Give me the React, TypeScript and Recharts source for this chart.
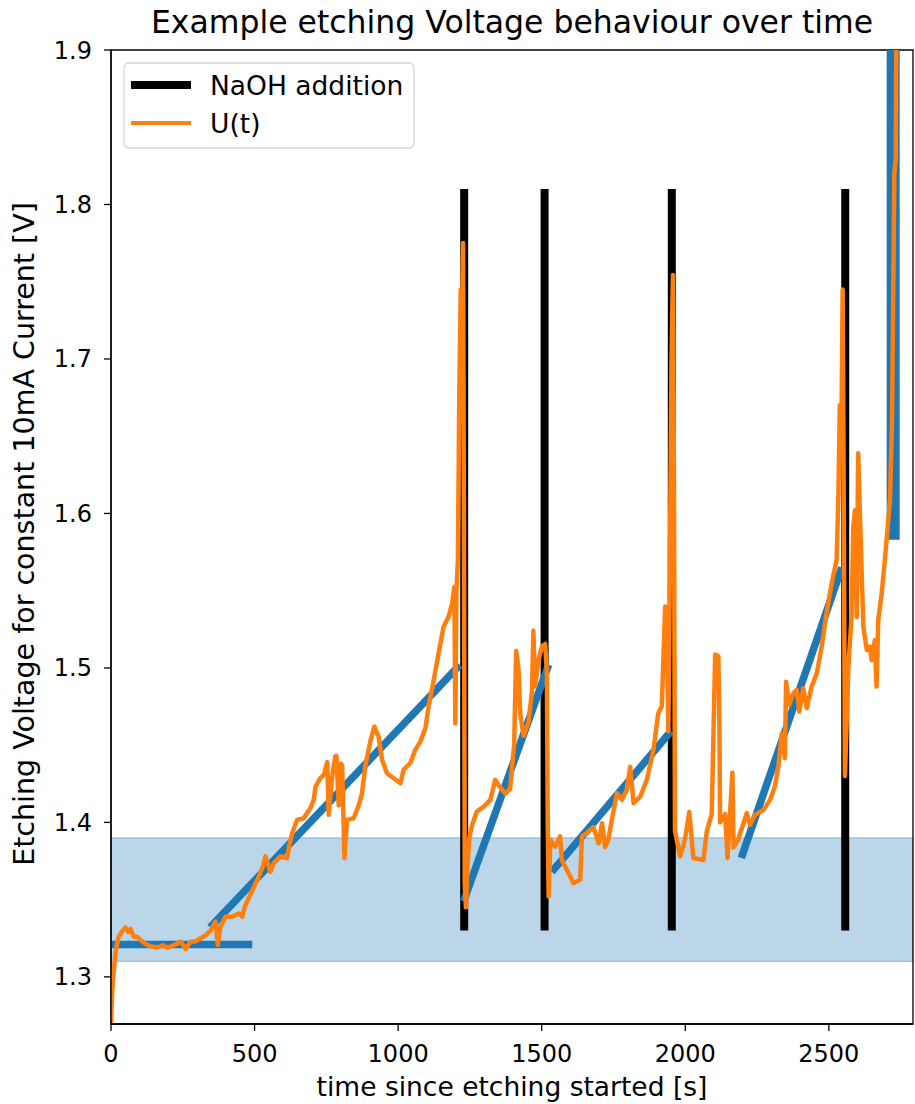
import { LineChart, Line, XAxis, YAxis, ReferenceArea, Label } from "recharts";

// measured voltage trace U(t)
const uTimes = [
  0, 4, 10, 16, 25, 33, 50, 60, 68, 79, 90, 103, 115, 126, 145, 161, 180, 195, 207, 225,
  242, 250, 260, 277, 295, 312, 330, 347, 364, 372, 381, 399, 422, 445, 457, 468, 480, 497, 515, 530,
  538, 555, 567, 590, 613, 622, 631, 648, 671, 683, 694, 706, 712, 729, 741, 753, 758, 770, 781, 785,
  793, 801, 805, 813, 822, 845, 863, 874, 886, 903, 917, 932, 944, 961, 984, 1008, 1019, 1042, 1060, 1077,
  1095, 1106, 1124, 1141, 1158, 1176, 1188, 1196, 1199, 1203, 1208, 1213, 1218, 1222, 1226, 1229, 1232, 1236, 1241, 1248,
  1257, 1274, 1297, 1321, 1338, 1350, 1373, 1390, 1404, 1411, 1419, 1425, 1437, 1454, 1466, 1471, 1477, 1489, 1501, 1512,
  1518, 1521, 1524, 1530, 1547, 1564, 1570, 1588, 1611, 1634, 1640, 1657, 1680, 1698, 1710, 1721, 1732, 1744, 1762, 1779,
  1796, 1808, 1820, 1843, 1866, 1889, 1906, 1918, 1930, 1936, 1941, 1946, 1952, 1957, 1961, 1964, 1982, 1999, 2014, 2028,
  2063, 2075, 2092, 2104, 2115, 2119, 2121, 2139, 2147, 2164, 2168, 2185, 2191, 2214, 2225, 2243, 2272, 2295, 2312, 2324,
  2336, 2347, 2351, 2362, 2376, 2388, 2397, 2411, 2423, 2440, 2458, 2475, 2492, 2510, 2527, 2533, 2538, 2544, 2548, 2552,
  2556, 2568, 2579, 2585, 2591, 2597, 2602, 2608, 2620, 2632, 2643, 2649, 2660, 2666, 2672, 2684, 2695, 2707, 2713, 2720,
  2728, 2733, 2737,
];
const uVolts = [
  1.27, 1.29, 1.305, 1.316, 1.325, 1.328, 1.332, 1.329, 1.331, 1.326, 1.326, 1.324, 1.322, 1.3207, 1.3195, 1.319, 1.3205, 1.319, 1.3196, 1.321,
  1.3228, 1.321, 1.318, 1.3228, 1.323, 1.325, 1.327, 1.33, 1.3358, 1.3207, 1.3326, 1.339, 1.339, 1.341, 1.339, 1.3466, 1.351, 1.358, 1.365, 1.372,
  1.378, 1.368, 1.3736, 1.378, 1.3768, 1.386, 1.393, 1.4016, 1.4027, 1.406, 1.409, 1.4146, 1.423, 1.4286, 1.4307, 1.439, 1.405, 1.4296, 1.4426, 1.443,
  1.411, 1.438, 1.437, 1.377, 1.4016, 1.4027, 1.411, 1.4189, 1.437, 1.4523, 1.462, 1.4555, 1.4405, 1.4318, 1.4286, 1.4254, 1.434, 1.4383, 1.447, 1.4523,
  1.461, 1.475, 1.4922, 1.5095, 1.5267, 1.5332, 1.5419, 1.5526, 1.464, 1.55, 1.57, 1.68, 1.745, 1.72, 1.775, 1.6, 1.36, 1.345, 1.37, 1.39,
  1.398, 1.407, 1.41, 1.4146, 1.4275, 1.424, 1.4186, 1.4217, 1.4504, 1.511, 1.4995, 1.4706, 1.456, 1.465, 1.485, 1.524, 1.488, 1.5053, 1.514, 1.5155,
  1.4968, 1.4, 1.352, 1.3887, 1.3843, 1.391, 1.3757, 1.369, 1.3606, 1.3628, 1.391, 1.393, 1.397, 1.3865, 1.3995, 1.384, 1.3887, 1.4016, 1.4189, 1.4146,
  1.421, 1.436, 1.4124, 1.4167, 1.4275, 1.447, 1.4707, 1.475, 1.5397, 1.5246, 1.459, 1.56, 1.7, 1.7544, 1.6, 1.3945, 1.378, 1.389, 1.4068, 1.377,
  1.3757, 1.3945, 1.4053, 1.5087, 1.5074, 1.4618, 1.3999, 1.4053, 1.377, 1.4322, 1.3838, 1.389, 1.393, 1.406, 1.3984, 1.4049, 1.408, 1.4146, 1.4232, 1.436,
  1.4577, 1.4416, 1.491, 1.476, 1.4836, 1.4858, 1.4717, 1.4869, 1.474, 1.4879, 1.4966, 1.5138, 1.5354, 1.5548, 1.57, 1.61, 1.67, 1.66, 1.745, 1.6,
  1.43, 1.5008, 1.533, 1.591, 1.602, 1.533, 1.639, 1.6, 1.5267, 1.5117, 1.5138, 1.505, 1.518, 1.4879, 1.531, 1.5483, 1.57, 1.5958, 1.609, 1.66,
  1.82, 1.83, 2.0,
];

// NaOH additions (vertical markers)
const naohTimes = [1230, 1510, 1953, 2557];
const naohRange = [1.33, 1.81];

// linear fits per etching phase
const fitStartT = [0, 345, 1228, 1535, 2195, 2724];
const fitStartU = [1.321, 1.332, 1.349, 1.368, 1.377, 1.583];
const fitEndT = [492, 1215, 1524, 1950, 2545, 2724];
const fitEndU = [1.321, 1.502, 1.502, 1.459, 1.565, 2.2];

// target voltage window
const bandRange = [1.31, 1.39];

const xDomain = [0, 2793];
const yDomain = [1.2695, 1.9];
const xTicks = [0, 500, 1000, 1500, 2000, 2500];
const yTicks = [1.3, 1.4, 1.5, 1.6, 1.7, 1.8, 1.9];

const FONT = "DejaVu Sans";
const BLUE = "#1f77b4";
const ORANGE = "#ff7f0e";

const uData = uTimes.map((t, i) => ({ t, v: uVolts[i] }));

function ChartLegend() {
  return (
    <svg
      width={292}
      height={87}
      style={{ position: "absolute", left: 123, top: 62 }}
    >
      <rect
        x={1}
        y={1}
        width={290}
        height={85}
        rx={5}
        fill="rgba(255,255,255,0.8)"
        stroke="#d4d4d4"
        strokeWidth={1.3}
      />
      <line x1={8} x2={68} y1={23} y2={23} stroke="#000" strokeWidth={8} />
      <line x1={8} x2={68} y1={61} y2={61} stroke={ORANGE} strokeWidth={4} />
      <text x={87} y={23} dy="0.36em" fontSize={26.5} fontFamily={FONT}>
        NaOH addition
      </text>
      <text x={87} y={61} dy="0.36em" fontSize={26.5} fontFamily={FONT}>
        U(t)
      </text>
    </svg>
  );
}

export default function App() {
  return (
    <div style={{ position: "absolute", left: 0, top: 0, width: 915, height: 1104, background: "#fff" }}>
      <LineChart
        width={915}
        height={1104}
        margin={{ top: 50, right: 2, bottom: 0, left: 0 }}
        style={{ fontFamily: FONT }}
      >
        <XAxis
          dataKey="t"
          type="number"
          domain={xDomain}
          ticks={xTicks}
          allowDataOverflow
          height={80}
          stroke="#000"
          strokeWidth={1.3}
          tickSize={7}
          tickMargin={14}
          tick={{ fontSize: 24, fill: "#000", fontFamily: FONT }}
        >
          <Label
            value="time since etching started [s]"
            position="insideBottom"
            offset={8}
            style={{ fontSize: 26.5, fill: "#000", fontFamily: FONT }}
          />
        </XAxis>
        <YAxis
          type="number"
          domain={yDomain}
          ticks={yTicks}
          allowDataOverflow
          width={111}
          stroke="#000"
          strokeWidth={1.3}
          tickSize={7}
          tickMargin={12}
          tickFormatter={(v: number) => v.toFixed(1)}
          tick={{ fontSize: 24, fill: "#000", fontFamily: FONT }}
        >
          <Label
            value="Etching Voltage for constant 10mA Current [V]"
            content={() => (
              <text
                x={24}
                y={534}
                transform="rotate(-90 24 534)"
                textAnchor="middle"
                dominantBaseline="central"
                fontSize={28.5}
                fontFamily={FONT}
                fill="#000"
              >
                Etching Voltage for constant 10mA Current [V]
              </text>
            )}
          />
        </YAxis>

        <ReferenceArea
          x1={xDomain[0]}
          x2={xDomain[1]}
          y1={bandRange[0]}
          y2={bandRange[1]}
          fill={BLUE}
          fillOpacity={0.3}
          stroke={BLUE}
          strokeOpacity={0.35}
          strokeWidth={1.3}
          ifOverflow="hidden"
        />

        {naohTimes.map((t, i) => (
          <Line
            key={`naoh-${i}`}
            data={[
              { t, v: naohRange[0] },
              { t, v: naohRange[1] },
            ]}
            dataKey="v"
            stroke="#000"
            strokeWidth={8}
            strokeLinecap="butt"
            dot={false}
            activeDot={false}
            isAnimationActive={false}
          />
        ))}

        {fitStartT.map((t, i) => (
          <Line
            key={`fit-${i}`}
            data={[
              { t, v: fitStartU[i] },
              { t: fitEndT[i], v: fitEndU[i] },
            ]}
            dataKey="v"
            stroke={BLUE}
            strokeWidth={i === fitStartT.length - 1 ? 13 : 7.5}
            strokeLinecap="butt"
            dot={false}
            activeDot={false}
            isAnimationActive={false}
          />
        ))}

        <Line
          data={uData}
          dataKey="v"
          stroke={ORANGE}
          strokeWidth={4.5}
          strokeLinejoin="round"
          dot={false}
          activeDot={false}
          isAnimationActive={false}
        />

        {/* axes frame + title */}
        <ReferenceArea
          x1={xDomain[0]}
          x2={xDomain[1]}
          y1={yDomain[0]}
          y2={yDomain[1]}
          fill="none"
          stroke="#000"
          strokeWidth={1.3}
          ifOverflow="visible"
        >
          <Label
            value="Example etching Voltage behaviour over time"
            position="top"
            offset={17}
            style={{ fontSize: 31.5, fill: "#000", fontFamily: FONT }}
          />
        </ReferenceArea>
      </LineChart>
      <ChartLegend />
    </div>
  );
}
